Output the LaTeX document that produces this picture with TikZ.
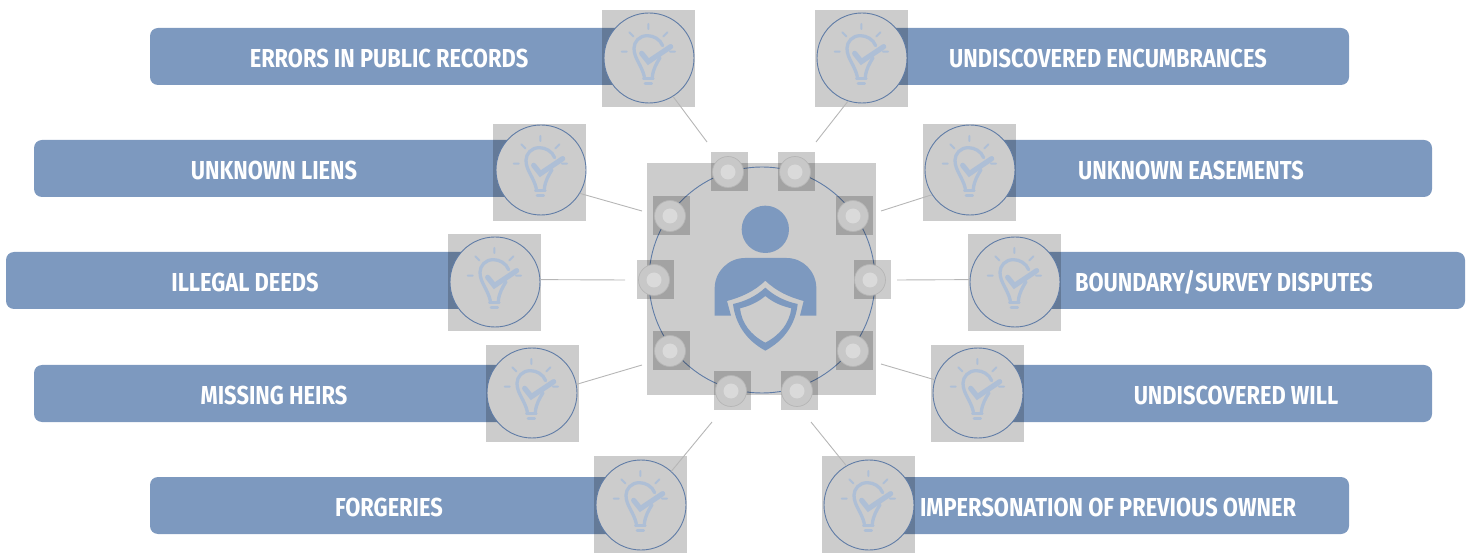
\documentclass[tikz,border=0pt]{standalone}
\usepackage{fontspec}
\newfontfamily\barfont[FakeStretch=0.84]{Fira Sans}
\usetikzlibrary{positioning}
\definecolor{barblue}{HTML}{7D99BF}
\definecolor{ringblue}{HTML}{5F7CA6}
\definecolor{iconblue}{HTML}{AEBFD6}
\definecolor{boxgray}{HTML}{CCCCCC}
\definecolor{spokegray}{HTML}{B6B6B6}
\definecolor{dotgray}{HTML}{C8C8C8}
\definecolor{coregray}{HTML}{DADADA}

\begin{document}
\begin{tikzpicture}[
			x=1pt, y=-1pt,
			barnode/.style  = {fill=barblue, rounded corners=8pt, inner sep=0pt, minimum height=57pt},
			tagnode/.style  = {text=white, font=\barfont\bfseries\fontsize{26}{28}\selectfont, inner sep=0pt},
			boxnode/.style  = {fill=boxgray, inner sep=0pt},
			iconring/.style = {circle, draw=ringblue, fill=boxgray, line width=0.9pt, inner sep=0pt, minimum size=90pt},
			dotnode/.style  = {circle, draw=spokegray, fill=dotgray, line width=0.7pt, inner sep=0pt, minimum size=31pt},
			dotcore/.style  = {circle, fill=coregray, inner sep=0pt, minimum size=15pt},
			spoke/.style    = {draw=spokegray, line width=0.9pt},
			bulb/.pic = {
				\begin{scope}[scale=1/3, shift={(-117,-129)}, draw=iconblue, line cap=round]
					\draw[line width=3.3pt] (158,92) .. controls (150,72) and (130,62) .. (112,62) .. controls (88,62) and (72,80) .. (72,100) .. controls (72,130) and (95,150) .. (103,185);
					\draw[line width=3.3pt] (150,128) .. controls (140,145) and (130,160) .. (127,185);
					\draw[line width=5.2pt] (95,115) -- (115,140) -- (182,95);
					\draw[line width=2pt] (115,27) -- (115,42) (58,52) -- (70,64) (172,52) -- (160,64) (35,110) -- (50,110) (180,110) -- (195,110);
					\draw[line width=2.6pt] (100,190) -- (130,190) (105,205) -- (125,205);
				\end{scope}
			}]
			
			\useasboundingbox (0,0) rectangle (1473,553);
			
			% centre block with its ring
			\node[boxnode, minimum width=229pt, minimum height=232pt] (hub) at (761.5,279) {};
			\node[circle, draw=ringblue, line width=0.9pt, inner sep=0pt, minimum size=226pt] (ring) at (762,280) {};
			
			% the ten risks: bar, box, ring with bulb, label, spoke
			\foreach \nm/\barl/\barr/\bary/\boxx/\boxy/\cx/\cy/\tx/\ang/\ex/\ey/\txt in {
				a/150/640/56.5/648.5/58.5/649/58/389/-58/707/142/{ERRORS IN PUBLIC RECORDS},
				b/34/530/168.5/539.5/172.5/541/170/274/-31/642/211/{UNKNOWN LIENS},
				c/6/484/280.5/494.5/282.5/495/282/245/3/625/280/{ILLEGAL DEEDS},
				d/34/514/393.5/532.5/393.5/532/393/274/11/642/365/{MISSING HEIRS},
				e/150/628/505.5/640.5/504/641/505/389/48/712/422/{FORGERIES},
				f/867/1349/56.5/861.5/58.5/862/58/1108/-108/816/142/{UNDISCOVERED ENCUMBRANCES},
				g/950/1432/168.5/969.5/172.5/970/170/1191/-147/881/211/{UNKNOWN EASEMENTS},
				h/983/1465/280.5/1014.5/282.5/1015/282/1224/177/897/280/{BOUNDARY/SURVEY DISPUTES},
				i/1000/1432/393.5/977.5/393.5/978/393/1236/163/881/364/{UNDISCOVERED WILL},
				j/867/1349/505.5/868.5/504/869/505/1108/120/811/422/{IMPERSONATION OF PREVIOUS OWNER}} {
				\node[barnode, minimum width={(\barr-\barl)*1pt}] (bar\nm) at ({(\barl+\barr)/2},\bary) {};
				\begin{scope}[blend mode=multiply]
					\node[boxnode, minimum width=93pt, minimum height=97pt] (box\nm) at (\boxx,\boxy) {};
				\end{scope}
				\node[iconring] (ic\nm) at (\cx,\cy) {};
				\pic at (ic\nm) {bulb};
				\node[tagnode] (tag\nm) at (\tx,\bary+1.5) {\txt};
				\coordinate (end\nm) at (\ex,\ey);
				\draw[spoke] (ic\nm.\ang) -- (end\nm);
			}
			
			% the dots on the ring
			\foreach \nm/\boxx/\boxy/\cx/\cy in {
				1/729.5/171.5/728/172, 2/796.5/171.5/795/172, 3/854.5/215.5/853/216,
				4/872/279.5/870/280, 5/854.5/350.5/853/351, 6/799/390.5/797/391,
				7/732.5/390.5/731/391, 8/671.5/350.5/670/351, 9/655.5/279.5/654/280, 10/671.5/215.5/670/216} {
				\begin{scope}[blend mode=multiply]
					\node[boxnode, minimum width=37pt, minimum height=39pt] (dbox\nm) at (\boxx,\boxy) {};
				\end{scope}
				\node[dotnode] (dot\nm) at (\cx,\cy) {};
				\node[dotcore] (core\nm) at (dot\nm) {};
			}
			
			% person with shield, traced over the block
			\begin{scope}[shift={(630,140)}, scale=1/3]
				\fill[barblue] (406,268) circle (71);
				\fill[barblue] (254,527) -- (254,445) .. controls (254,395) and (295,354) .. (345,354) -- (470,354) .. controls (520,354) and (559,395) .. (559,445) -- (559,527) -- (510,527) -- (521,483) .. controls (480,472) and (440,455) .. (406,422) .. controls (372,455) and (332,472) .. (291,483) -- (303,527) -- cycle;
				\fill[barblue, even odd rule] (406,443) .. controls (435,470) and (470,485) .. (503,492) .. controls (497,550) and (465,600) .. (406,632) .. controls (347,600) and (316,550) .. (309,492) .. controls (342,485) and (377,470) .. (406,443) -- cycle
					(406,468) .. controls (430,488) and (455,498) .. (484,505) .. controls (478,550) and (450,585) .. (406,608) .. controls (362,585) and (335,550) .. (330,505) .. controls (358,498) and (382,488) .. (406,468) -- cycle;
			\end{scope}
		\end{tikzpicture}
\end{document}
